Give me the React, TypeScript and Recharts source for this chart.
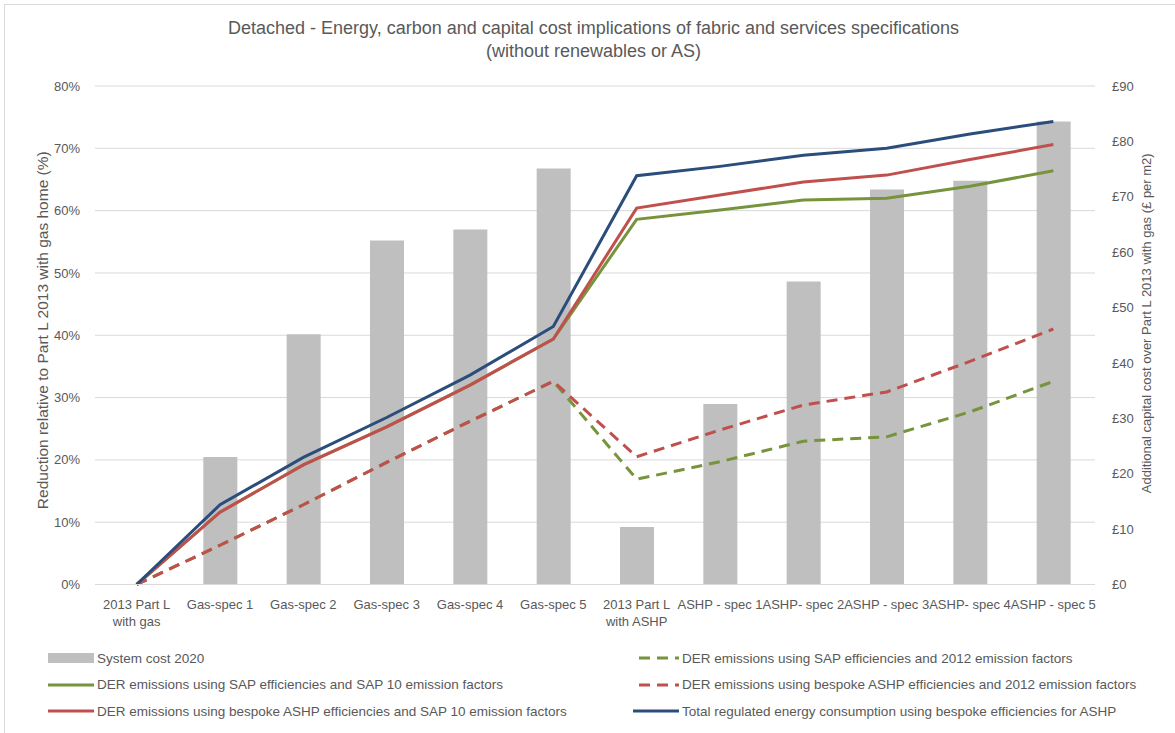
import React from "react";
import {
  ComposedChart,
  Bar,
  Line,
  XAxis,
  YAxis,
  CartesianGrid,
  Legend,
} from "recharts";

const categories = [
  "2013 Part L\nwith gas",
  "Gas-spec 1",
  "Gas-spec 2",
  "Gas-spec 3",
  "Gas-spec 4",
  "Gas-spec 5",
  "2013 Part L\nwith ASHP",
  "ASHP - spec 1",
  "ASHP- spec 2",
  "ASHP - spec 3",
  "ASHP- spec 4",
  "ASHP - spec 5",
];

// £ per m2 (right axis)
const systemCost2020 = [0, 23.0, 45.2, 62.1, 64.1, 75.1, 10.4, 32.6, 54.7, 71.3, 72.9, 83.6];

// % reduction (left axis)
const derSap2012 = [0, 6.3, 12.8, 19.6, 26.2, 32.6, 16.9, 19.7, 23.0, 23.7, 27.7, 32.6];
const derSapSap10 = [0, 11.6, 19.2, 25.3, 32.0, 39.4, 58.6, 60.1, 61.7, 62.0, 63.9, 66.4];
const derBespoke2012 = [0, 6.3, 12.8, 19.6, 26.2, 32.6, 20.5, 24.8, 28.8, 30.9, 35.8, 41.0];
const derBespokeSap10 = [0, 11.6, 19.2, 25.3, 32.0, 39.4, 60.4, 62.5, 64.6, 65.7, 68.2, 70.6];
const totalRegulated = [0, 12.8, 20.4, 26.8, 33.6, 41.4, 65.6, 67.1, 68.9, 70.0, 72.3, 74.3];

const leftTicks = [0, 10, 20, 30, 40, 50, 60, 70, 80];
const rightTicks = [0, 10, 20, 30, 40, 50, 60, 70, 80, 90];

const seriesNames = {
  cost: "System cost 2020",
  g2012: "DER emissions using SAP efficiencies and 2012 emission factors",
  g10: "DER emissions using SAP efficiencies and SAP 10 emission factors",
  r2012: "DER emissions using bespoke ASHP efficiencies and 2012 emission factors",
  r10: "DER emissions using bespoke ASHP efficiencies and SAP 10 emission factors",
  blue: "Total regulated energy consumption using bespoke efficiencies for ASHP",
};

const data = categories.map((c, i) => ({
  name: c,
  cost: systemCost2020[i],
  g2012: derSap2012[i],
  g10: derSapSap10[i],
  r2012: derBespoke2012[i],
  r10: derBespokeSap10[i],
  blue: totalRegulated[i],
}));

const GREY = "#bfbfbf";
const GREEN = "#77933c";
const RED = "#c0504d";
const BLUE = "#2a4d7b";
const TEXT = "#595959";
const FONT = "'Liberation Sans', Arial, sans-serif";

const XTick = (props: any) => {
  const { x, y, payload } = props;
  const lines = String(payload.value).split("\n");
  return (
    <g transform={`translate(${x},${y})`}>
      {lines.map((l, i) => (
        <text
          key={i}
          x={0}
          y={0}
          dy={16 + i * 17}
          textAnchor="middle"
          fill={TEXT}
          fontSize={13}
          fontFamily={FONT}
        >
          {l}
        </text>
      ))}
    </g>
  );
};

const legendOrder = ["cost", "g2012", "g10", "r2012", "r10", "blue"];
const legendStyle: Record<string, { color: string; dash?: boolean; box?: boolean }> = {
  cost: { color: GREY, box: true },
  g2012: { color: GREEN, dash: true },
  g10: { color: GREEN },
  r2012: { color: RED, dash: true },
  r10: { color: RED },
  blue: { color: BLUE },
};

const LegendContent = () => {
  return (
    <div style={{ position: "relative", width: 1175, height: 80, fontFamily: FONT }}>
      {legendOrder.map((k, i) => {
        const col = i % 2;
        const row = Math.floor(i / 2);
        const left = col === 0 ? 48 : 633;
        const top = row * 26.5;
        const st = legendStyle[k];
        return (
          <div
            key={k}
            style={{
              position: "absolute",
              left,
              top,
              height: 20,
              display: "flex",
              alignItems: "center",
              whiteSpace: "nowrap",
            }}
          >
            <svg width={46} height={12} style={{ marginRight: 3 }}>
              {st.box ? (
                <rect x={0} y={1} width={46} height={10} fill={st.color} />
              ) : st.dash ? (
                <line x1={0} y1={6} x2={46} y2={6} stroke={st.color} strokeWidth={3} strokeDasharray="11 7" strokeDashoffset={-6} />
              ) : (
                <line x1={0} y1={6} x2={46} y2={6} stroke={st.color} strokeWidth={3} />
              )}
            </svg>
            <span style={{ fontSize: 13.5, color: TEXT }}>{(seriesNames as any)[k]}</span>
          </div>
        );
      })}
    </div>
  );
};

export default function App() {
  return (
    <div style={{ position: "absolute", left: 0, top: 0, width: 1175, height: 733, background: "#fff" }}>
      <div
        style={{
          position: "absolute",
          left: 4,
          top: 4,
          width: 1180,
          height: 740,
          border: "1px solid #d9d9d9",
          boxSizing: "border-box",
        }}
      />
      <div
        style={{
          position: "absolute",
          left: 0,
          top: 17,
          width: 1187,
          textAlign: "center",
          fontFamily: FONT,
          fontSize: 18,
          lineHeight: "23px",
          color: TEXT,
        }}
      >
        <div>Detached - Energy, carbon and capital cost implications of fabric and services specifications</div>
        <div>(without renewables or AS)</div>
      </div>
      <ComposedChart
        width={1175}
        height={733}
        data={data}
        margin={{ top: 86, right: 20, bottom: 108.5, left: 35 }}
        style={{ position: "absolute", left: 0, top: 0 }}
      >
        <CartesianGrid yAxisId="left" vertical={false} stroke="#d9d9d9" strokeWidth={1} />
        <XAxis
          dataKey="name"
          interval={0}
          tickLine={false}
          axisLine={{ stroke: "#d9d9d9" }}
          height={40}
          tick={<XTick />}
        />
        <YAxis
          yAxisId="left"
          orientation="left"
          domain={[0, 80]}
          ticks={leftTicks}
          width={60}
          tickLine={false}
          axisLine={false}
          tickSize={6}
          tickMargin={9}
          tickFormatter={(v: number) => `${v}%`}
          tick={{ fill: TEXT, fontSize: 13, fontFamily: FONT }}
          label={{
            value: "Reduction relative to Part L 2013 with gas home (%)",
            angle: -90,
            position: "center",
            dx: -23,
            dy: -5,
            fill: TEXT,
            fontSize: 15.5,
            fontFamily: FONT,
          }}
        />
        <YAxis
          yAxisId="right"
          orientation="right"
          domain={[0, 90]}
          ticks={rightTicks}
          width={60}
          tickLine={false}
          axisLine={false}
          tickSize={6}
          tickMargin={11}
          tickFormatter={(v: number) => `£${v}`}
          tick={{ fill: TEXT, fontSize: 13, fontFamily: FONT, textAnchor: "start" }}
          label={{
            value: "Additional capital cost over Part L 2013 with gas (£ per m2)",
            angle: -90,
            position: "center",
            dx: 21,
            dy: -12,
            fill: TEXT,
            fontSize: 13,
            fontFamily: FONT,
          }}
        />
        <Legend
          layout="horizontal"
          verticalAlign="middle"
          align="center"
          wrapperStyle={{ top: 648, left: 0, width: 1175, height: 80 }}
          content={<LegendContent />}
        />
        <Bar yAxisId="right" dataKey="cost" name={seriesNames.cost} fill={GREY} barSize={34} isAnimationActive={false} />
        <Line yAxisId="left" type="linear" dataKey="g2012" name={seriesNames.g2012} stroke={GREEN} strokeWidth={3} strokeDasharray="11 7" dot={false} activeDot={false} isAnimationActive={false} />
        <Line yAxisId="left" type="linear" dataKey="g10" name={seriesNames.g10} stroke={GREEN} strokeWidth={3} dot={false} activeDot={false} isAnimationActive={false} />
        <Line yAxisId="left" type="linear" dataKey="r2012" name={seriesNames.r2012} stroke={RED} strokeWidth={3} strokeDasharray="11 7" dot={false} activeDot={false} isAnimationActive={false} />
        <Line yAxisId="left" type="linear" dataKey="r10" name={seriesNames.r10} stroke={RED} strokeWidth={3} dot={false} activeDot={false} isAnimationActive={false} />
        <Line yAxisId="left" type="linear" dataKey="blue" name={seriesNames.blue} stroke={BLUE} strokeWidth={3} dot={false} activeDot={false} isAnimationActive={false} />
      </ComposedChart>
    </div>
  );
}
